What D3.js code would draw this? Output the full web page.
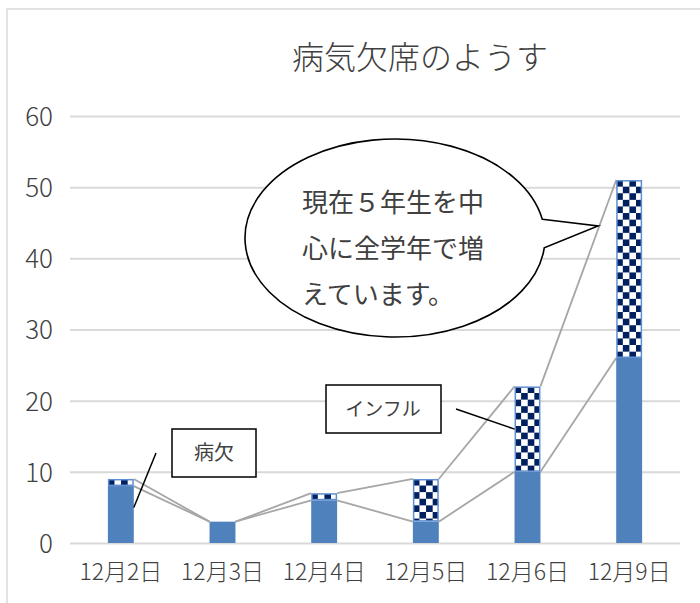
<!DOCTYPE html>
<html><head><meta charset="utf-8">
<script src="https://cdn.jsdelivr.net/npm/d3@7"></script>
<style>
html,body{margin:0;padding:0;background:#fff;}
svg{display:block;}
text{font-family:"Noto Sans CJK JP","Noto Sans",sans-serif;fill:#404040;font-weight:300;}
</style></head>
<body>
<svg id="c" width="700" height="603"></svg>
<script>
const categories = ["12月2日","12月3日","12月4日","12月5日","12月6日","12月9日"];
const sickValues = [8, 3, 6, 3, 10, 26];   // 病欠
const fluValues  = [1, 0, 1, 6, 12, 25];   // インフル
const yTicks = [0, 10, 20, 30, 40, 50, 60];
const titleText = "病気欠席のようす";
const bubbleLines = ["現在５年生を中", "心に全学年で増", "えています。"];

const svg = d3.select("#c");
const W = 700, H = 603;
const plot = {left:70, right:680, top:116, bottom:543};

// chart area border (top + left)
svg.append("path").attr("d", `M7,${H} L7,9 L${W},9`).attr("fill","none")
  .attr("stroke","#d9d9d9").attr("stroke-width",1.5);

const x = d3.scaleBand().domain(categories).range([plot.left, plot.right])
  .paddingInner(0.745).paddingOuter(0.3725);
const y = d3.scaleLinear().domain([0,60]).range([plot.bottom, plot.top]);

// gridlines
const yAxis = d3.axisLeft(y).tickValues(yTicks).tickSize(-(plot.right-plot.left)).tickPadding(17);
const gy = svg.append("g").attr("transform",`translate(${plot.left},0)`).call(yAxis);
gy.select(".domain").remove();
gy.selectAll(".tick line").attr("stroke","#d9d9d9").attr("stroke-width",2);
gy.selectAll(".tick text").attr("font-size",26).attr("fill","#404040")
  .style("font-weight","300").attr("dy","0.36em");

// x axis labels
const xAxis = d3.axisBottom(x).tickSize(0).tickPadding(21);
const gx = svg.append("g").attr("transform",`translate(0,${plot.bottom})`).call(xAxis);
gx.select(".domain").remove();
gx.selectAll(".tick text").attr("font-size",23).attr("fill","#404040");

// title
svg.append("text").attr("x",420).attr("y",69).attr("text-anchor","middle")
  .attr("font-size",32).attr("fill","#404040").text(titleText);

// checker pattern per bar
const defs = svg.append("defs");
const cell = 6.6;
categories.forEach((c,i)=>{
  const p = defs.append("pattern").attr("id","chk"+i).attr("patternUnits","userSpaceOnUse")
    .attr("width",cell*2).attr("height",cell*2)
    .attr("x",x(c)).attr("y",y(sickValues[i]+fluValues[i]));
  p.append("rect").attr("width",cell*2).attr("height",cell*2).attr("fill","#ffffff");
  p.append("rect").attr("x",0).attr("y",0).attr("width",cell).attr("height",cell).attr("fill","#002060");
  p.append("rect").attr("x",cell).attr("y",cell).attr("width",cell).attr("height",cell).attr("fill","#002060");
});

// series lines
const totals = sickValues.map((v,i)=>v+fluValues[i]);
const seriesLine = (vals)=>{
  for(let i=0;i<categories.length-1;i++){
    svg.append("line")
      .attr("x1", x(categories[i])+x.bandwidth()).attr("y1", y(vals[i]))
      .attr("x2", x(categories[i+1])).attr("y2", y(vals[i+1]))
      .attr("stroke","#a6a6a6").attr("stroke-width",1.8);
  }
};
seriesLine(sickValues);
seriesLine(totals);

// bars
svg.append("g").selectAll("rect").data(categories).join("rect")
  .attr("x",c=>x(c)).attr("width",x.bandwidth())
  .attr("y",(c,i)=>y(sickValues[i])).attr("height",(c,i)=>y(0)-y(sickValues[i]))
  .attr("fill","#4f81bd");
svg.append("g").selectAll("rect").data(categories).join("rect")
  .filter((c,i)=>fluValues[i]>0)
  .attr("x",c=>x(c)+0.75).attr("width",x.bandwidth()-1.5)
  .attr("y",c=>{const i=categories.indexOf(c);return y(totals[i])+0.75;})
  .attr("height",c=>{const i=categories.indexOf(c);return y(sickValues[i])-y(totals[i])-1.5;})
  .attr("fill",c=>"url(#chk"+categories.indexOf(c)+")")
  .attr("stroke","#5f8fd0").attr("stroke-width",1.5);

// callout: 病欠
svg.append("line").attr("x1",156).attr("y1",453)
  .attr("x2",x(categories[0])+x.bandwidth()).attr("y2",y(5))
  .attr("stroke","#000").attr("stroke-width",1.5);
svg.append("rect").attr("x",172).attr("y",429).attr("width",84).attr("height",48)
  .attr("fill","#fff").attr("stroke","#000").attr("stroke-width",1.5);
svg.append("text").attr("x",214).attr("y",460).attr("text-anchor","middle")
  .attr("font-size",20).attr("fill","#222").style("font-weight","400").text("病欠");

// callout: インフル
svg.append("line").attr("x1",456).attr("y1",409)
  .attr("x2",x(categories[4])).attr("y2",y(16))
  .attr("stroke","#000").attr("stroke-width",1.5);
svg.append("rect").attr("x",326).attr("y",385).attr("width",115).attr("height",48)
  .attr("fill","#fff").attr("stroke","#000").attr("stroke-width",1.5);
svg.append("text").attr("x",383).attr("y",416).attr("text-anchor","middle")
  .attr("font-size",19).attr("fill","#222").style("font-weight","400").text("インフル");

// speech bubble
const cx=395, cy=238, rx=150, ry=99;
const a1 = -0.19, a2 = 0.10; // angles of tail base (radians)
const A = [cx+rx*Math.cos(a1), cy+ry*Math.sin(a1)];
const B = [cx+rx*Math.cos(a2), cy+ry*Math.sin(a2)];
const tip = [598,226];
svg.append("path")
  .attr("d",`M${A[0]},${A[1]} L${tip[0]},${tip[1]} L${B[0]},${B[1]} A${rx},${ry} 0 1 1 ${A[0]},${A[1]} Z`)
  .attr("fill","#fff").attr("stroke","#000").attr("stroke-width",1.6);
bubbleLines.forEach((t,i)=>{
  svg.append("text").attr("x",302).attr("y",212+i*46).attr("font-size",26)
    .attr("fill","#111").style("font-weight","400").text(t);
});
</script>
</body></html>
